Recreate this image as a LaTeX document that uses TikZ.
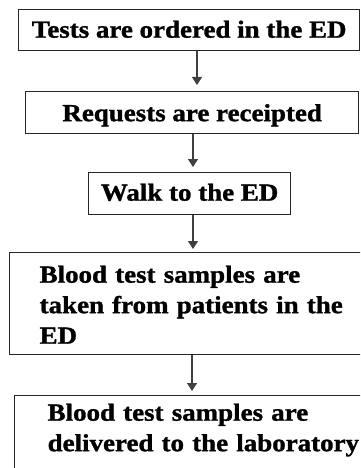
\documentclass[tikz,border=0pt]{standalone}
\usepackage{fontspec}
\setmainfont{Liberation Serif}[FakeStretch=1.1,BoldFeatures={FakeBold=1.2}]
\usetikzlibrary{arrows.meta}
\begin{document}
\begin{tikzpicture}[x=1pt,y=-1pt,
  stepbox/.style={draw=black!85,line width=1.3pt,inner xsep=0pt,inner ysep=0pt,
    anchor=north west,font=\fontsize{24.5}{30.5}\selectfont\bfseries},
  leftbox/.style={stepbox,align=left,text width=330pt},
  flow/.style={draw=black!75,line width=1.1pt,-{Triangle[width=10pt,length=8pt]}}]
  \useasboundingbox (0,0) rectangle (360,468);
  \clip (0,0) rectangle (360,468);

  % process steps
  \node[stepbox,minimum width=341pt,text height=28pt,text depth=13pt]
    (b1) at (18,9) {Tests are ordered in the ED};
  \node[stepbox,minimum width=333pt,text height=29.5pt,text depth=12.5pt]
    (b2) at (25,91) {Requests are receipted};
  \node[stepbox,minimum width=202pt,text height=28pt,text depth=14pt]
    (b3) at (88,172) {Walk to the ED};
  \node[leftbox,inner xsep=30pt,text height=30pt,text depth=72pt]
    (b4) at (9,252) {Blood test samples are\\taken from patients in the\\ED};
  \node[leftbox,inner xsep=33pt,text height=25pt,text depth=90pt]
    (b5) at (14,395) {Blood test samples are\\delivered to the laboratory};

  % columns of the connectors
  \coordinate (c1) at (197,0);
  \coordinate (c2) at (193,0);
  \coordinate (c3) at (193,0);
  \coordinate (c4) at (192,0);

  \draw[flow,shorten >=6pt] (b1.south -| c1) -- (b2.north -| c1);
  \draw[flow,shorten >=5pt] (b2.south -| c2) -- (b3.north -| c2);
  \draw[flow,shorten >=3pt] (b3.south -| c3) -- (b4.north -| c3);
  \draw[flow,shorten >=4pt] (b4.south -| c4) -- (b5.north -| c4);
\end{tikzpicture}
\end{document}
